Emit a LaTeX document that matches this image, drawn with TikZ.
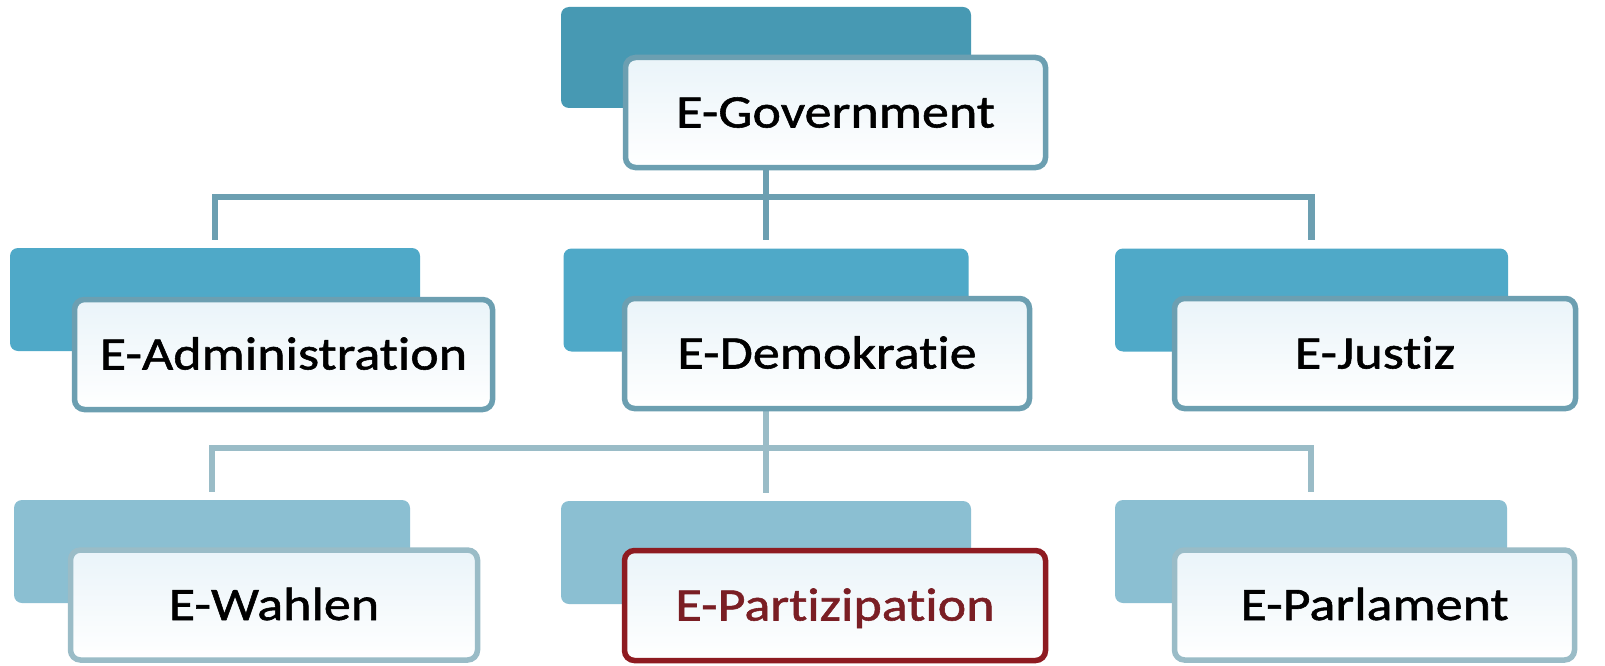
\documentclass[tikz,border=0pt]{standalone}
\usepackage{fontspec}
\setmainfont{Carlito}[FakeStretch=1.16, FakeBold=1.2, Ligatures={NoCommon}]
\usetikzlibrary{calc}
\definecolor{backA}{HTML}{4799B3}
\definecolor{backB}{HTML}{4FA9C8}
\definecolor{backC}{HTML}{8BBFD2}
\definecolor{lineA}{HTML}{6C9FB1}
\definecolor{lineC}{HTML}{9ABCC7}
\definecolor{redline}{HTML}{8E1B21}
\definecolor{redtext}{HTML}{7A1E24}
\definecolor{fronttop}{HTML}{EAF4F9}
\pgfdeclarelayer{bg}
\pgfsetlayers{bg,main}
\tikzset{
  backbox/.style={rectangle, rounded corners=8pt, inner sep=0pt, minimum height=103pt, fill=#1},
  frontbox/.style={rectangle, draw=#1, line width=5.5pt, rounded corners=10pt,
    top color=fronttop, bottom color=white, minimum height=110pt, inner sep=0pt,
    text=black, font=\fontsize{46.6}{50}\selectfont, text height=30pt, text depth=0pt},
  connA/.style={draw=lineA, line width=6.5pt},
  connC/.style={draw=lineC, line width=6.5pt},
}
\begin{document}
\begin{tikzpicture}[x=1pt,y=-1pt]
\useasboundingbox (0,0) rectangle (1605,666);
% level 1
\node[backbox=backA, minimum width=410pt, minimum height=101pt] (gb) at (766,57.5) {};
\node[frontbox=lineA, minimum width=420pt] (g) at (835.5,112.5) {E-Government};
% level 2
\node[backbox=backB, minimum width=410pt] (ab) at (215,299.5) {};
\node[frontbox=lineA, minimum width=418pt] (a) at (283.5,354.5) {E-Administration};
\node[backbox=backB, minimum width=405pt] (db) at (766,300) {};
\node[frontbox=lineA, minimum width=405pt] (d) at (827,353.5) {E-Demokratie};
\node[backbox=backB, minimum width=393pt] (jb) at (1311.5,300) {};
\node[frontbox=lineA, minimum width=401pt] (j) at (1375,353.5) {E-Justiz};
% level 3
\node[backbox=backC, minimum width=396pt] (wb) at (212,551.5) {};
\node[frontbox=lineC, minimum width=407pt] (w) at (274,605) {E-Wahlen};
\node[backbox=backC, minimum width=410pt] (pb) at (766,552.5) {};
\node[frontbox=redline, minimum width=421pt, text=redtext] (p) at (835,605.5) {E-Partizipation};
\node[backbox=backC, minimum width=392pt] (rb) at (1311,551.5) {};
\node[frontbox=lineC, minimum width=400pt] (r) at (1374.5,605) {E-Parlament};
% connectors
\coordinate (bus1) at (0,197);
\coordinate (bus2) at (0,448);
\begin{pgfonlayer}{bg}
\fill[white] (0,0) rectangle (1605,666);
\draw[connA] (gb.center) -- (gb.center |- bus1);
\draw[connA] ($(ab.north)+(0,-8)$) -- (ab.north |- bus1) -- (jb.north |- bus1) -- ($(jb.north)+(0,-8)$);
\draw[connA] (gb.center |- bus1) -- ($(db.north)+(0,-8)$);
\draw[connC] (db.center) -- (db.center |- bus2);
\draw[connC] ($(wb.north)+(0,-8)$) -- (wb.north |- bus2) -- (rb.north |- bus2) -- ($(rb.north)+(0,-8)$);
\draw[connC] (db.center |- bus2) -- ($(pb.north)+(0,-8)$);
\end{pgfonlayer}
\end{tikzpicture}
\end{document}
